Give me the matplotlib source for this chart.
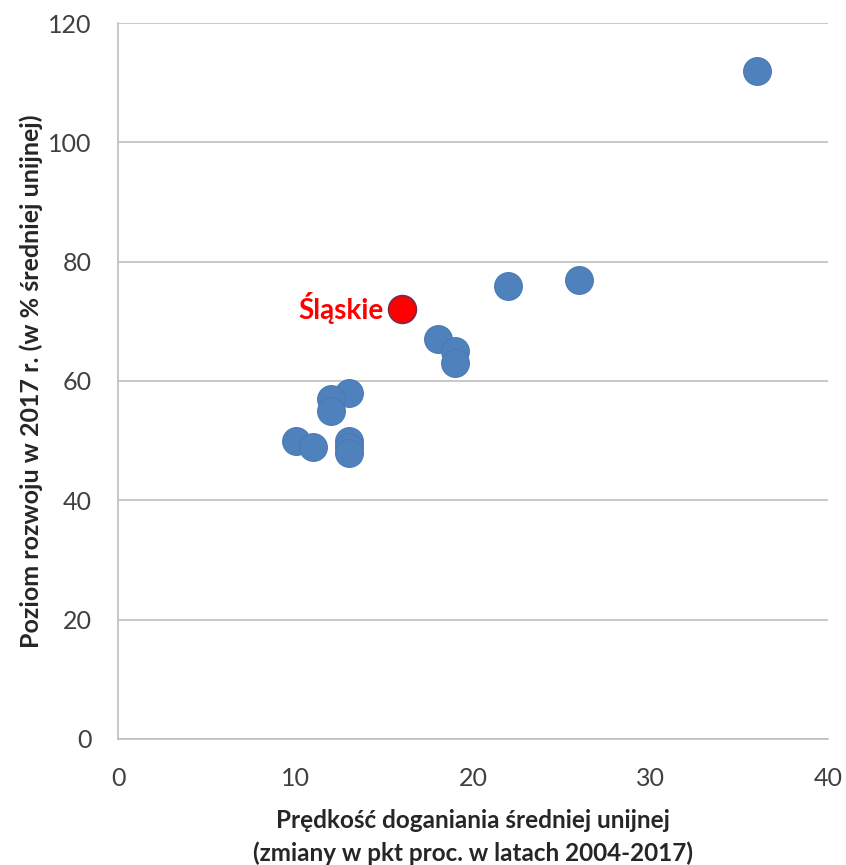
import matplotlib.pyplot as plt

# region data: catching-up speed vs development level
speed = [36, 26, 22, 18, 19, 19, 13, 12, 12, 10, 11, 13, 13, 13]
level = [112, 77, 76, 67, 65, 63, 58, 57, 55, 50, 49, 50, 49, 48]
slaskie_speed = [16]
slaskie_level = [72]

x_ticks = [0, 10, 20, 30, 40]
y_ticks = [0, 20, 40, 60, 80, 100, 120]

plt.rcParams['font.family'] = ['Lato', 'DejaVu Sans']

fig = plt.figure(figsize=(8.46, 8.65), dpi=100)
ax = fig.add_axes([0.1395, 0.1457, 0.8392, 0.8277])

ax.scatter(speed, level, s=400, color='#4F81BD', edgecolors='#4A7AB5', linewidths=0.8, zorder=3)
ax.scatter(slaskie_speed, slaskie_level, s=400, color='#FF0000', edgecolors='#7A2A4A', linewidths=1.2, zorder=4)
ax.annotate('Śląskie', (slaskie_speed[0], slaskie_level[0]), xytext=(-13, 1),
            textcoords='offset points', ha='right', va='center',
            color='#FF0000', fontsize=20, fontweight='bold')

ax.set_xlim(0, 40)
ax.set_ylim(0, 120)
ax.set_xticks(x_ticks)
ax.set_yticks(y_ticks)
ax.tick_params(length=0, labelsize=18, colors='#404040')
ax.tick_params(axis='y', pad=19)
ax.tick_params(axis='x', pad=20)
ax.yaxis.grid(True, color='#BFBFBF', linewidth=1.2)
ax.set_axisbelow(True)
for side in ['top', 'right']:
    ax.spines[side].set_visible(False)
for side in ['left', 'bottom']:
    ax.spines[side].set_color('#BFBFBF')
    ax.spines[side].set_linewidth(1.2)

ax.set_xlabel('Prędkość doganiania średniej unijnej\n(zmiany w pkt proc. w latach 2004-2017)',
              fontsize=17.5, fontweight='bold', color='#262626', labelpad=14, linespacing=1.45)
ax.set_ylabel('Poziom rozwoju w 2017 r. (w % średniej unijnej)',
              fontsize=18, fontweight='bold', color='#262626', labelpad=4)

plt.savefig('out.png', dpi=100)
